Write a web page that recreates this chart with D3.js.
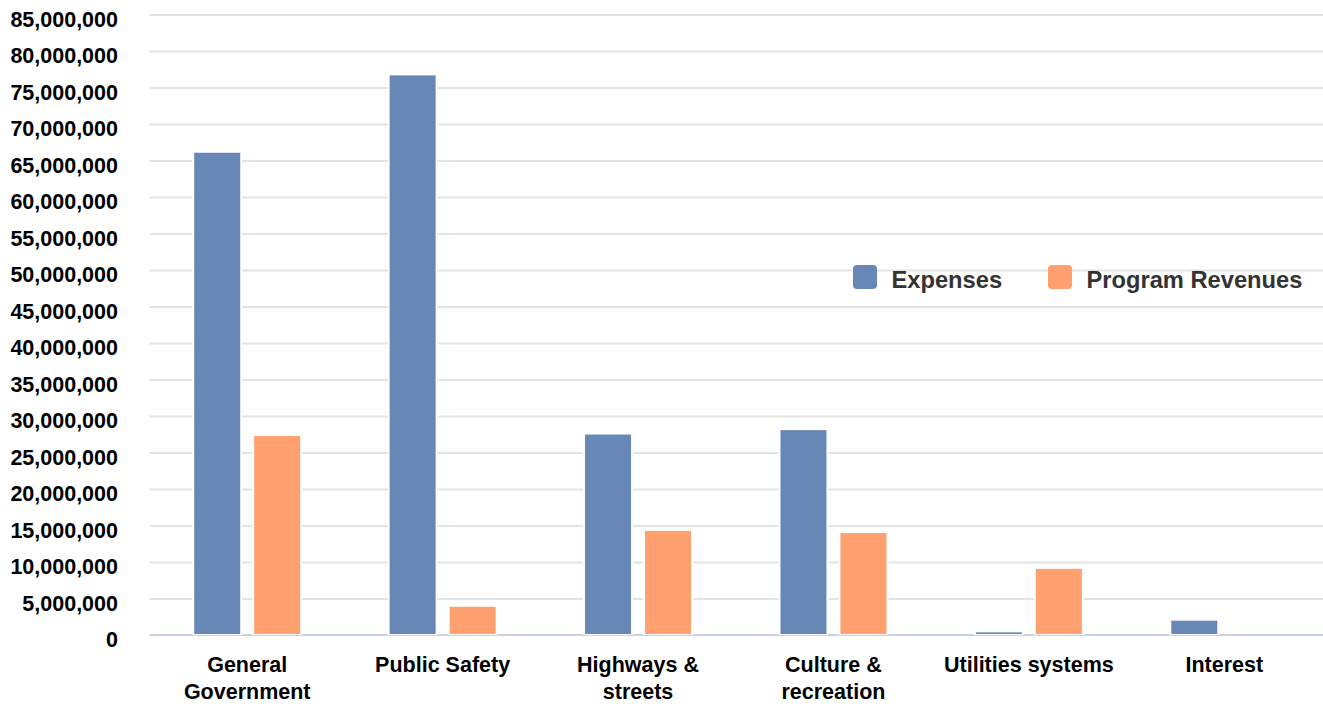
<!DOCTYPE html>
<html>
<head>
<meta charset="utf-8">
<script src="https://cdn.jsdelivr.net/npm/d3@7"></script>
<style>
  html, body { margin: 0; padding: 0; background: #ffffff; }
  svg { display: block; font-family: "Liberation Sans", Arial, Helvetica, sans-serif; }
</style>
</head>
<body>
<svg id="chart" width="1323" height="709"></svg>
<script>
// ---- data ----
const categories = ["General Government", "Public Safety", "Highways & streets", "Culture & recreation", "Utilities systems", "Interest"];
const categoryLabels = [["General", "Government"], ["Public Safety"], ["Highways &", "streets"], ["Culture &", "recreation"], ["Utilities systems"], ["Interest"]];
const seriesNames = ["Expenses", "Program Revenues"];
const expenses = [66200000, 76800000, 27600000, 28200000, 500000, 2100000];
const programRevenues = [27400000, 4000000, 14400000, 14100000, 9200000, 0];
const yTicks = [0, 5000000, 10000000, 15000000, 20000000, 25000000, 30000000, 35000000, 40000000, 45000000, 50000000, 55000000, 60000000, 65000000, 70000000, 75000000, 80000000, 85000000];
const colors = ["#6788b7", "#ffa06e"];

// ---- layout ----
const svg = d3.select("#chart");
const plotLeft = 149.5, plotRight = 1322, plotTop = 14.5, plotBottom = 635;

const x = d3.scaleBand().domain(categories).range([plotLeft, plotRight]).padding(0);
const y = d3.scaleLinear().domain([0, 85000000]).range([plotBottom, plotTop]);

// gridlines
const grid = svg.append("g")
  .attr("transform", `translate(${plotLeft},0)`)
  .call(d3.axisLeft(y).tickValues(yTicks.slice(1)).tickSize(-(plotRight - plotLeft + 1)).tickFormat(""));
grid.select(".domain").remove();
grid.selectAll("line").attr("stroke", "#e4e4e4").attr("stroke-width", 2);

// y labels
const yAxis = svg.append("g")
  .attr("transform", `translate(118,0)`)
  .call(d3.axisLeft(y).tickValues(yTicks).tickSize(0).tickPadding(0).tickFormat(d3.format(",")));
yAxis.select(".domain").remove();
yAxis.selectAll("text")
  .attr("font-family", "'Liberation Sans', Arial, sans-serif")
  .attr("font-size", "21.5px")
  .attr("font-weight", "bold")
  .attr("fill", "#000")
  .attr("dy", null)
  .attr("y", 11.5);

// baseline
svg.append("line")
  .attr("x1", plotLeft).attr("x2", plotRight + 1)
  .attr("y1", y(0)).attr("y2", y(0))
  .attr("stroke", "#c7d2e8").attr("stroke-width", 2);

// bars
const barW = 48, gap = 12;
const series = [expenses, programRevenues];
series.forEach((vals, si) => {
  svg.append("g").selectAll("rect")
    .data(vals.map((v, i) => ({ cat: categories[i], v })))
    .join("rect")
    .filter(d => d.v > 0)
    .attr("x", d => x(d.cat) + x.bandwidth() / 2 + (si === 0 ? -(gap / 2 + barW) : gap / 2))
    .attr("width", barW)
    .attr("y", d => y(d.v))
    .attr("height", d => Math.max(0, y(0) - y(d.v)))
    .attr("fill", colors[si])
    .attr("stroke", "#ffffff")
    .attr("stroke-width", 2);
});

// baseline over bar bottoms
svg.append("line")
  .attr("x1", plotLeft).attr("x2", plotRight + 1)
  .attr("y1", y(0) + 0.5).attr("y2", y(0) + 0.5)
  .attr("stroke", "#c7d2e8").attr("stroke-width", 1);

// x labels
const xLab = svg.append("g");
categories.forEach((c, i) => {
  const t = xLab.append("text")
    .attr("x", x(c) + x.bandwidth() / 2)
    .attr("y", 671.5)
    .attr("text-anchor", "middle")
    .attr("font-size", "21.5px")
    .attr("font-weight", "bold")
    .attr("fill", "#000");
  categoryLabels[i].forEach((line, li) => {
    t.append("tspan").attr("x", x(c) + x.bandwidth() / 2).attr("dy", li === 0 ? 0 : 27.5).text(line);
  });
});

// legend
const legendItems = [{ x: 853, name: seriesNames[0] }, { x: 1048, name: seriesNames[1] }];
const lg = svg.append("g");
legendItems.forEach((it, i) => {
  lg.append("rect").attr("x", it.x).attr("y", 265).attr("width", 24).attr("height", 24)
    .attr("rx", 4).attr("fill", colors[i]);
  lg.append("text").attr("x", it.x + 38.5).attr("y", 288)
    .attr("font-size", "23.7px").attr("font-weight", "bold").attr("fill", "#333333")
    .text(it.name);
});
</script>
</body>
</html>
